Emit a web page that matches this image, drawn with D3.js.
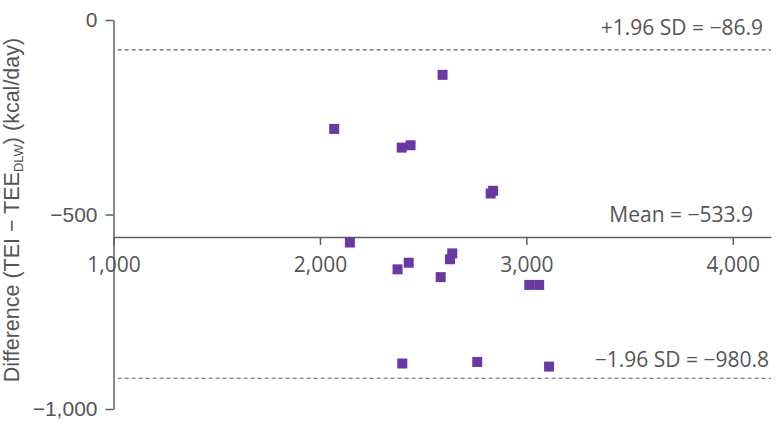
<!doctype html>
<html>
<head>
<meta charset="utf-8"/>
<script src="https://cdnjs.cloudflare.com/ajax/libs/d3/7.8.5/d3.min.js"></script>
<style>
	body { margin: 0; background: #fff; }
	svg { display: block; }
</style>
</head>
<body>
<svg id="chart" width="780" height="435"></svg>
<script>
	// mean energy (x) vs difference (y)
	var meanTEE = [2069, 2594, 2396, 2439, 2827, 2839, 2145, 2376, 2430, 2585, 2630, 2641, 3014, 3062, 2399, 2762, 3110];
	var diffTEE = [-280, -141, -328, -322, -446, -439, -572, -641, -624, -661, -615, -600, -681, -681, -883, -879, -891];

	var xTicks = [1000, 2000, 3000, 4000];
	var yTicks = [0, -500, -1000];

	// reference lines: where they sit on the drawn axis, and their labels
	var refNames = ["upper", "mean", "lower"];
	var refLevels = [-77, -558, -921];
	var refLabels = ["+1.96 SD = \u221286.9", "Mean = \u2212533.9", "\u22121.96 SD = \u2212980.8"];

	var svg = d3.select("#chart");
	var grey = "#606060";
	var purple = "#6b37a2";

	var xScale = d3.scaleLinear().domain([1000, 4185]).range([113.5, 771]);
	var yScale = d3.scaleLinear().domain([0, -1000]).range([20, 409]);

	var fmt = function (d) { return d3.format(",")(d).replace("-", "\u2212"); };

	// y axis
	var yAxis = d3.axisLeft(yScale).tickValues(yTicks).tickSize(8).tickPadding(8).tickSizeOuter(0).tickFormat(fmt);
	var yG = svg.append("g").attr("transform", "translate(113.5,0)").call(yAxis);
	yG.select(".domain").attr("stroke", grey).attr("stroke-width", 1.5);
	yG.selectAll(".tick line").attr("stroke", grey).attr("stroke-width", 1.5);
	yG.selectAll(".tick text").attr("fill", "#555").style("font-family", "Liberation Sans, Arial").style("font-size", "21px");

	// x axis sits on the mean line
	var xAxis = d3.axisBottom(xScale).tickValues(xTicks).tickSize(8).tickPadding(12).tickSizeOuter(0).tickFormat(fmt);
	var xG = svg.append("g").attr("transform", "translate(0," + yScale(refLevels[1]) + ")").call(xAxis);
	xG.select(".domain").attr("stroke", grey).attr("stroke-width", 1.5);
	xG.selectAll(".tick line").attr("stroke", grey).attr("stroke-width", 1.5);
	xG.selectAll(".tick text").attr("fill", "#555").style("font-family", "Open Sans, sans-serif").style("font-size", "21px");

	// dashed limits of agreement
	[0, 2].forEach(function (i) {
		svg.append("line")
			.attr("x1", xScale(1020)).attr("x2", xScale(4185))
			.attr("y1", yScale(refLevels[i])).attr("y2", yScale(refLevels[i]))
			.attr("stroke", grey).attr("stroke-width", 1.2)
			.attr("stroke-dasharray", "4,3");
	});

	// labels above each line
	var labelX = [763, 753, 769];
	var labelGap = [15, 15, 11];
	refNames.forEach(function (n, i) {
		svg.append("text")
			.attr("x", labelX[i])
			.attr("y", yScale(refLevels[i]) - labelGap[i])
			.attr("text-anchor", "end")
			.attr("fill", "#555")
			.style("font-family", "Open Sans, sans-serif")
			.style("font-size", "21px")
			.text(refLabels[i]);
	});

	// points
	svg.append("g").selectAll("rect")
		.data(meanTEE)
		.enter().append("rect")
		.attr("x", function (d) { return xScale(d) - 5; })
		.attr("y", function (d, i) { return yScale(diffTEE[i]) - 5; })
		.attr("width", 10).attr("height", 10)
		.attr("fill", purple);

	// y title with subscript
	var title = svg.append("text")
		.attr("transform", "translate(19,210) rotate(-90)")
		.attr("text-anchor", "middle")
		.attr("fill", "#555")
		.style("font-family", "Liberation Sans, Arial")
		.style("font-size", "21.5px");
	title.append("tspan").text("Difference (TEI \u2212 TEE");
	title.append("tspan").attr("dy", 4).style("font-size", "13px").text("DLW");
	title.append("tspan").attr("dy", -4).text(") (kcal/day)");
</script>
</body>
</html>
